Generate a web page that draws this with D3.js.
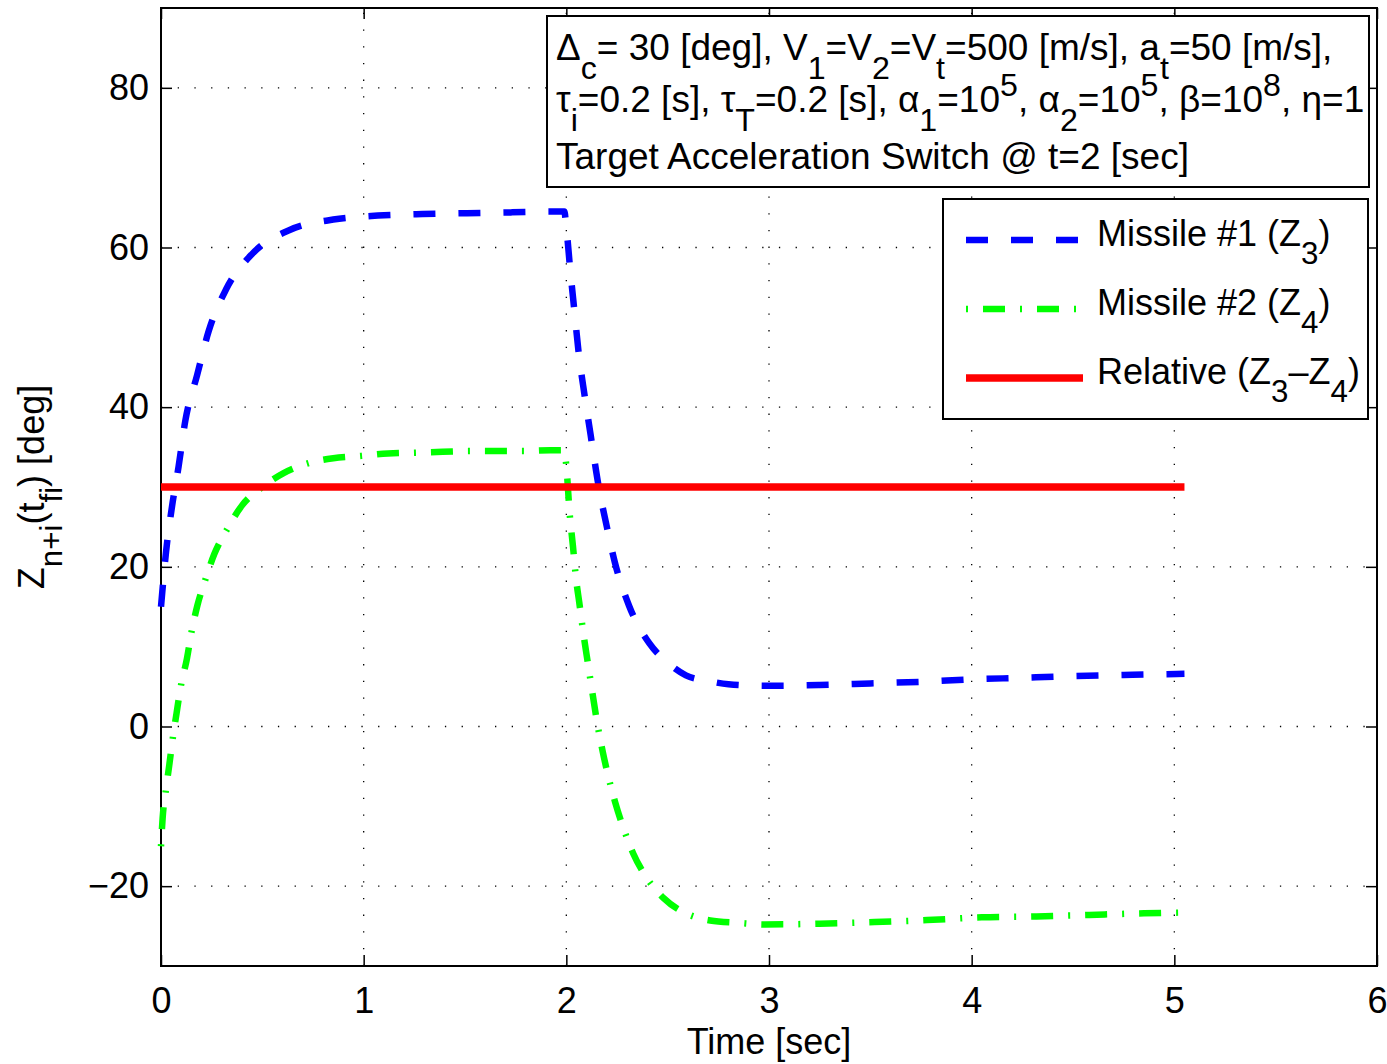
<!DOCTYPE html>
<html>
<head>
<meta charset="utf-8">
<script src="https://cdn.jsdelivr.net/npm/d3@7"></script>
<style>
  body { margin: 0; background: #fff; }
  text { font-family: "Liberation Sans", Arial, Helvetica, sans-serif; fill: #000; }
</style>
</head>
<body>
<div class="canvas"></div>
<script>
// values
const z3Time = [0, 0.025, 0.054, 0.087, 0.12, 0.178, 0.235, 0.32, 0.45, 0.635, 0.85, 1.07, 1.29, 1.51, 1.73, 1.95, 1.99,
    2.0, 2.02, 2.04, 2.06, 2.09, 2.12, 2.16, 2.2, 2.24, 2.31, 2.41, 2.5, 2.59, 2.7, 2.8, 3.0, 3.25, 3.5, 3.75, 4.0, 4.25, 4.5, 4.75, 5.05];
const z3Vals = [15, 21.9, 27.5, 32.6, 38.3, 44.0, 49.5, 54.7, 59.2, 62.2, 63.5, 64.0, 64.2, 64.3, 64.4, 64.5, 64.5,
    62.5, 57, 52, 47, 41.5, 36.5, 30, 25, 20.5, 15.1, 10.4, 8, 6.4, 5.7, 5.3, 5.1, 5.2, 5.4, 5.6, 5.9, 6.1, 6.3, 6.45, 6.6];

const z4Time = [0, 0.008, 0.025, 0.041, 0.058, 0.077, 0.099, 0.128, 0.151, 0.18, 0.219, 0.263, 0.326, 0.4, 0.5, 0.605, 0.73, 0.85,
    0.99, 1.12, 1.26, 1.39, 1.53, 1.66, 1.79, 1.92, 1.99, 2.0, 2.017, 2.033, 2.048, 2.064, 2.089, 2.106, 2.13, 2.15, 2.18, 2.2,
    2.24, 2.28, 2.33, 2.39, 2.48, 2.59, 2.71, 2.85, 2.98, 3.25, 3.52, 3.78, 4.05, 4.32, 4.58, 4.85, 5.05];
const z4Vals = [-15, -11.5, -7.8, -4.8, -1.5, 1.7, 5.2, 8.5, 11.9, 15.2, 18.4, 21.6, 24.7, 27.7, 30.0, 31.75, 33.0, 33.6,
    33.9, 34.2, 34.3, 34.4, 34.5, 34.5, 34.5, 34.6, 34.6, 32.6, 26.5, 22.5, 18.5, 15.5, 10.8, 8.0, 4.0, 0.8, -3.2, -5.5,
    -9.4, -12.6, -15.9, -18.7, -21.5, -23.4, -24.3, -24.6, -24.8, -24.7, -24.5, -24.25, -23.9, -23.8, -23.6, -23.4, -23.3];

const relTime = [0, 5.05];
const relVals = [30, 30];

const xTicks = [0, 1, 2, 3, 4, 5, 6];
const yTicks = [-20, 0, 20, 40, 60, 80];

const dims = { width: 1387, height: 1064 };
const plot = { left: 161, right: 1377, top: 8, bottom: 966 };
const fs = 36;

const svg = d3.select('.canvas')
    .append('svg')
    .attr('width', dims.width)
    .attr('height', dims.height);

const x = d3.scaleLinear().domain([0, 6]).range([plot.left, plot.right]);
const y = d3.scaleLinear().domain([-30, 90]).range([plot.bottom, plot.top]);

// rich text helper: parts = [[text, 'n'|'sub'|'sup'], ...]
const richText = (sel, parts, size) => {
    let shift = 0;
    parts.forEach(([t, k]) => {
        const target = k === 'sub' ? 0.5 * size : k === 'sup' ? -0.44 * size : 0;
        sel.append('tspan')
            .attr('dy', target - shift)
            .attr('font-size', k === 'n' ? size : size * 0.87)
            .text(t);
        shift = target;
    });
};

// grid
const grid = svg.append('g')
    .attr('stroke', '#000')
    .attr('stroke-width', 1.3)
    .attr('stroke-dasharray', '1.3,15.4');

grid.selectAll('.gx')
    .data(xTicks.filter(d => d > 0 && d < 6))
    .enter().append('line')
    .attr('x1', d => x(d)).attr('x2', d => x(d))
    .attr('y1', plot.bottom).attr('y2', plot.top);

grid.selectAll('.gy')
    .data(yTicks)
    .enter().append('line')
    .attr('x1', plot.left).attr('x2', plot.right)
    .attr('y1', d => y(d)).attr('y2', d => y(d));

// axes
const tickStyle = g => {
    g.select('.domain').remove();
    g.selectAll('.tick line').attr('stroke', '#000').attr('stroke-width', 1.5);
    g.selectAll('.tick text')
        .attr('font-size', fs)
        .attr('font-family', '"Liberation Sans", Arial, Helvetica, sans-serif')
        .attr('fill', '#000');
};

svg.append('g')
    .attr('transform', `translate(0,${plot.bottom})`)
    .call(d3.axisBottom(x).tickValues(xTicks).tickFormat(d3.format('d'))
        .tickSizeInner(-11).tickSizeOuter(0).tickPadding(21))
    .call(tickStyle);

svg.append('g')
    .attr('transform', `translate(0,${plot.top})`)
    .call(d3.axisTop(x).tickValues(xTicks).tickSizeInner(-11).tickSizeOuter(0).tickFormat(''))
    .call(tickStyle);

svg.append('g')
    .attr('transform', `translate(${plot.left},0)`)
    .call(d3.axisLeft(y).tickValues(yTicks).tickFormat(d3.format('d'))
        .tickSizeInner(-11).tickSizeOuter(0).tickPadding(12))
    .call(tickStyle);

svg.append('g')
    .attr('transform', `translate(${plot.right},0)`)
    .call(d3.axisRight(y).tickValues(yTicks).tickSizeInner(-11).tickSizeOuter(0).tickFormat(''))
    .call(tickStyle);

svg.append('rect')
    .attr('x', plot.left).attr('y', plot.top)
    .attr('width', plot.right - plot.left)
    .attr('height', plot.bottom - plot.top)
    .attr('fill', 'none')
    .attr('stroke', '#000')
    .attr('stroke-width', 2);

// axis labels
svg.append('text')
    .attr('x', x(3)).attr('y', 1054)
    .attr('text-anchor', 'middle')
    .attr('font-size', fs)
    .text('Time [sec]');

const yLab = svg.append('text')
    .attr('transform', 'translate(44,487) rotate(-90)')
    .attr('text-anchor', 'middle')
    .attr('font-size', fs);
richText(yLab, [['Z', 'n'], ['n+i', 'sub'], ['(t', 'n'], ['fi', 'sub'], [') [deg]', 'n']], fs);

// series
const series = [
    { name: 'z3', t: z3Time, v: z3Vals, colour: '#0000ff', width: 6.5, dash: '22,23' },
    { name: 'z4', t: z4Time, v: z4Vals, colour: '#00ff00', width: 6.5, dash: '2,15,22,15' },
    { name: 'rel', t: relTime, v: relVals, colour: '#ff0000', width: 7.5, dash: null }
];

const line = d3.line()
    .x(d => x(d[0]))
    .y(d => y(d[1]))
    .curve(d3.curveMonotoneX);

svg.append('g').selectAll('path')
    .data(series)
    .enter().append('path')
    .attr('d', d => line(d.t.map((t, i) => [t, d.v[i]])))
    .attr('fill', 'none')
    .attr('stroke', d => d.colour)
    .attr('stroke-width', d => d.width)
    .attr('stroke-dasharray', d => d.dash);

// annotation box
const note = svg.append('g');
note.append('rect')
    .attr('x', 547).attr('y', 16)
    .attr('width', 822).attr('height', 171)
    .attr('fill', '#fff')
    .attr('stroke', '#000')
    .attr('stroke-width', 2);

const noteLines = [
    { y: 60, parts: [['Δ', 'n'], ['c', 'sub'], ['= 30 [deg], V', 'n'], ['1', 'sub'], ['=V', 'n'], ['2', 'sub'], ['=V', 'n'], ['t', 'sub'],
        ['=500 [m/s], a', 'n'], ['t', 'sub'], ['=50 [m/s],', 'n']] },
    { y: 112, parts: [['τ', 'n'], ['i', 'sub'], ['=0.2 [s], τ', 'n'], ['T', 'sub'], ['=0.2 [s], α', 'n'], ['1', 'sub'], ['=10', 'n'], ['5', 'sup'],
        [', α', 'n'], ['2', 'sub'], ['=10', 'n'], ['5', 'sup'], [', β=10', 'n'], ['8', 'sup'], [', η=1', 'n']] },
    { y: 169, parts: [['Target Acceleration Switch @ t=2 [sec]', 'n']] }
];

noteLines.forEach(l => {
    const t = note.append('text').attr('x', 556).attr('y', l.y).attr('font-size', 37);
    richText(t, l.parts, 37);
});

// legend
const legend = svg.append('g');
legend.append('rect')
    .attr('x', 943).attr('y', 199)
    .attr('width', 425).attr('height', 220)
    .attr('fill', '#fff')
    .attr('stroke', '#000')
    .attr('stroke-width', 2);

const legendItems = [
    { s: series[0], y: 240, parts: [['Missile #1 (Z', 'n'], ['3', 'sub'], [')', 'n']] },
    { s: series[1], y: 309, parts: [['Missile #2 (Z', 'n'], ['4', 'sub'], [')', 'n']] },
    { s: series[2], y: 378, parts: [['Relative (Z', 'n'], ['3', 'sub'], ['–Z', 'n'], ['4', 'sub'], [')', 'n']] }
];

legendItems.forEach(item => {
    legend.append('line')
        .attr('x1', 966).attr('x2', 1083)
        .attr('y1', item.y).attr('y2', item.y)
        .attr('stroke', item.s.colour)
        .attr('stroke-width', item.s.width)
        .attr('stroke-dasharray', item.s.dash);
    const t = legend.append('text').attr('x', 1097).attr('y', item.y + 6).attr('font-size', fs);
    richText(t, item.parts, fs);
});
</script>
</body>
</html>
